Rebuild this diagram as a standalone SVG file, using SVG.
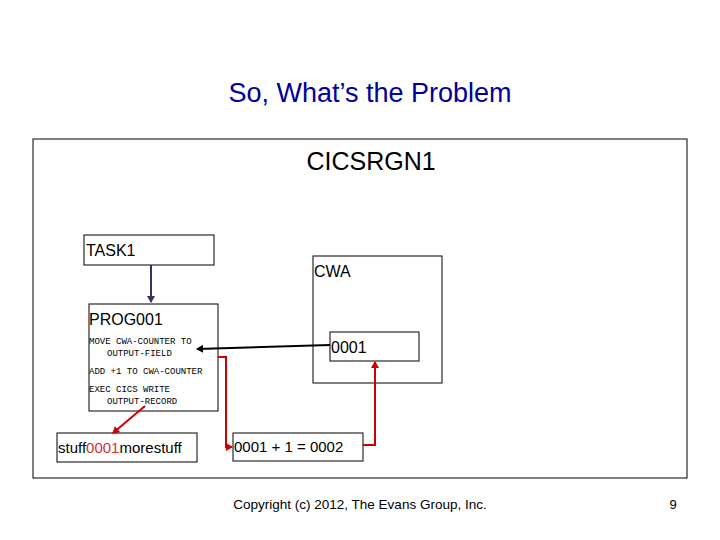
<svg xmlns="http://www.w3.org/2000/svg" width="720" height="540" viewBox="0 0 720 540">
<style>
.b{fill:#fff;stroke:#000;stroke-width:1}
.s{font-family:"Liberation Sans",Arial,sans-serif;fill:#000}
.m{font-family:"Liberation Mono","Courier New",monospace;font-size:9px;fill:#000}
</style>
<defs>
<marker id="ab" markerWidth="8" markerHeight="8" refX="6" refY="4" orient="auto" markerUnits="userSpaceOnUse"><path d="M0,0 L7,4 L0,8 Z" fill="#333366"/></marker>
<marker id="ak" markerWidth="8" markerHeight="8" refX="6" refY="4" orient="auto" markerUnits="userSpaceOnUse"><path d="M0,0 L7,4 L0,8 Z" fill="#000"/></marker>
<marker id="ar" markerWidth="8" markerHeight="8" refX="6" refY="4" orient="auto" markerUnits="userSpaceOnUse"><path d="M0,0 L7,4 L0,8 Z" fill="#cc0000"/></marker>
</defs>
<rect width="720" height="540" fill="#fff"/>
<text class="s" x="370" y="102" font-size="27" text-anchor="middle" style="fill:#000099">So, What’s the Problem</text>
<g id="region"><rect class="b" x="33" y="139" width="654" height="339"/>
<text class="s" x="371" y="170" font-size="25" text-anchor="middle">CICSRGN1</text></g>
<g id="task1"><rect class="b" x="84" y="235" width="130" height="30"/><text class="s" x="86" y="256" font-size="16">TASK1</text></g>
<g id="cwa"><rect class="b" x="313" y="256" width="129" height="127"/><text class="s" x="314" y="277" font-size="16">CWA</text></g>
<g id="counter"><rect class="b" x="330" y="332" width="89" height="29"/><text class="s" x="331" y="353" font-size="16">0001</text></g>
<g id="prog001"><rect class="b" x="89" y="304" width="129" height="107"/>
<text class="s" x="89" y="325" font-size="16">PROG001</text>
<text class="m" x="89" y="344">MOVE CWA-COUNTER TO</text>
<text class="m" x="107" y="356">OUTPUT-FIELD</text>
<text class="m" x="89" y="374">ADD +1 TO CWA-COUNTER</text>
<text class="m" x="89" y="392">EXEC CICS WRITE</text>
<text class="m" x="107" y="404">OUTPUT-RECORD</text></g>
<g id="record"><rect class="b" x="57" y="433" width="140" height="29"/><text class="s" x="58" y="453" font-size="15">stuff<tspan fill="#cc3333">0001</tspan>morestuff</text></g>
<g id="calc"><rect class="b" x="233" y="433" width="130" height="28"/><text class="s" x="234" y="452" font-size="15">0001 + 1 = 0002</text></g>
<text class="s" x="360" y="509" font-size="13.5" text-anchor="middle">Copyright (c) 2012, The Evans Group, Inc.</text>
<text class="s" x="673" y="509" font-size="13" text-anchor="middle">9</text>
<g id="connectors" fill="none">
<line x1="151" y1="265" x2="151" y2="302" stroke="#333366" stroke-width="2" marker-end="url(#ab)"/>
<line x1="330" y1="345" x2="197" y2="349" stroke="#000" stroke-width="2" marker-end="url(#ak)"/>
<polyline points="218,357 226,357 226,447 232,447" stroke="#cc0000" stroke-width="2" marker-end="url(#ar)"/>
<polyline points="363,445 375,445 375,362" stroke="#cc0000" stroke-width="2" marker-end="url(#ar)"/>
<line x1="145" y1="406" x2="113" y2="433" stroke="#cc0000" stroke-width="2" marker-end="url(#ar)"/>
</g>
</svg>
